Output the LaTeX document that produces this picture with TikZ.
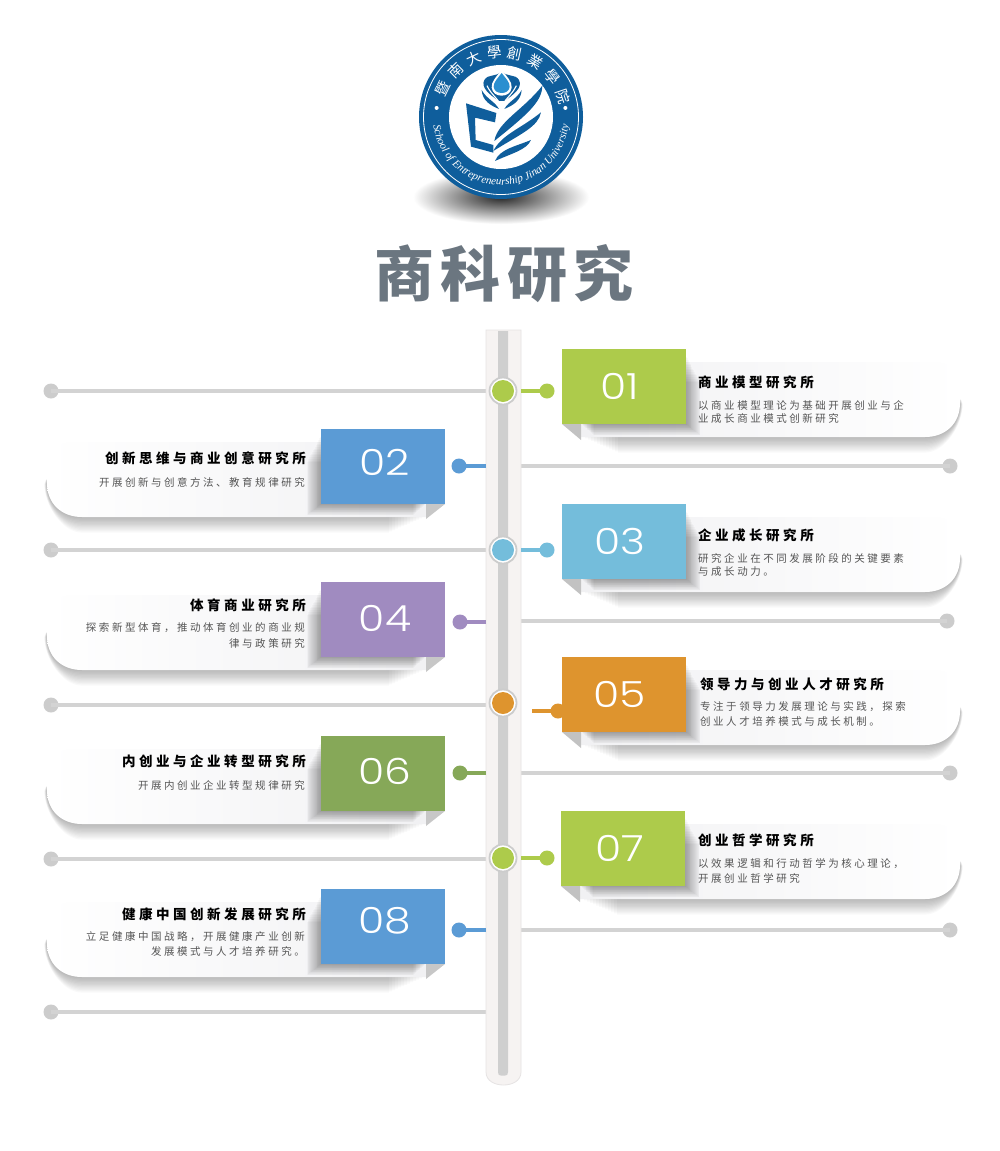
\documentclass[tikz,border=0pt]{standalone}
\usepackage{fontspec}
\usetikzlibrary{decorations.text}
\newfontfamily\ttlfont[LetterSpace=26]{Noto Sans CJK SC}
\newfontfamily\subfont[LetterSpace=24]{Noto Sans CJK SC}
\newfontfamily\bigfont[LetterSpace=11]{Noto Sans CJK SC Black}
\newfontfamily\logocjk{Noto Sans CJK SC}
\newfontfamily\numfont{Poppins Light}
\newfontfamily\logoen{Liberation Serif}
\newcommand{\fwc}{\char"FF0C\relax}
\definecolor{cgreen}{HTML}{ADCB4B}
\definecolor{cblue}{HTML}{5B9BD5}
\definecolor{csky}{HTML}{74BDDB}
\definecolor{cpurple}{HTML}{A08BC0}
\definecolor{corange}{HTML}{DE942E}
\definecolor{colive}{HTML}{86A858}
\definecolor{lgrey}{HTML}{D3D3D3}
\definecolor{dgrey}{HTML}{CCCCCC}
\definecolor{bandgrey}{HTML}{CFCFCF}
\definecolor{pipefill}{HTML}{F6F3F2}
\definecolor{pipeedge}{HTML}{E6E3E3}
\definecolor{cardgrey}{HTML}{F1F1F3}
\definecolor{logoblue}{HTML}{0F5E9C}
\definecolor{logodrop}{HTML}{2A8FD0}
\definecolor{ttlcol}{HTML}{6B7680}
\definecolor{subcol}{HTML}{555555}
\tikzset{
  numbox/.style={minimum width=124pt,minimum height=75pt,inner sep=0pt},
  numtxt/.style={inner sep=0pt,text=white,xscale=1.18,font=\numfont\fontsize{36}{36}\selectfont},
  ttl/.style={inner sep=0pt,text=black,font=\ttlfont\bfseries\fontsize{13.5}{13.5}\selectfont},
  subt/.style={inner sep=0pt,text=subcol,font=\subfont\fontsize{10.5}{10.5}\selectfont},
  endcap/.style={circle,fill=dgrey,minimum size=15pt,inner sep=0pt},
  gline/.style={draw=lgrey,line width=4pt},
  cdot/.style={circle,minimum size=15pt,inner sep=0pt},
  hubring/.style={circle,fill=white,draw=dgrey,line width=1.8pt,minimum size=27pt,inner sep=0pt},
  hubcore/.style={circle,minimum size=22pt,inner sep=0pt},
  anchorpt/.style={inner sep=0pt,minimum size=0pt}
}
% right hand card: box left, box top, colour, number, number centre x, y offset
\newcommand{\cardR}[6]{%
  \foreach \k in {1,...,12}{
    \fill[black,opacity=.024] (#1+20+3*\k,#2+45) -- (950,#2+45)
      .. controls (955,#2+45) and (960+.22*\k,#2+50) .. (960+.22*\k,#2+55)
      .. controls (960+.22*\k,#2+76) and (945,#2+88+1.3*\k) .. (925,#2+88+1.3*\k)
      -- (#1+20+3*\k,#2+88+1.3*\k) -- cycle;
  }
  \path[left color=cardgrey,right color=white] (#1+19,#2+13) -- (930,#2+13)
      .. controls (950,#2+13) and (960,#2+21) .. (960,#2+38)
      -- (960,#2+54) .. controls (960,#2+75) and (945,#2+88) .. (925,#2+88)
      -- (#1+19,#2+88) -- cycle;
  \foreach \k in {1,...,16}{
    \fill[black,opacity=.024] (#1+19+.8*\k,#2+6+1.7*\k) -- (#1+124+.9*\k,#2+6+1.7*\k) -- (#1+124+.9*\k,#2+75+.7*\k) -- (#1+19+.8*\k,#2+75+.7*\k) -- cycle;
  }
  \fill[black!24] (#1,#2+75) -- (#1+19,#2+75) -- (#1+19,#2+91) -- cycle;
  \node[numbox,fill=#3,anchor=north west] (box#4) at (#1,#2) {};
  \node[numtxt] (num#4) at (#5,#2+#6) {#4};
}
% left hand card
\newcommand{\cardL}[6]{%
  \foreach \k in {1,...,12}{
    \fill[black,opacity=.024] (#1+104-3*\k,#2+45) -- (57,#2+45)
      .. controls (52,#2+45) and (47-.22*\k,#2+50) .. (47-.22*\k,#2+55)
      .. controls (47-.22*\k,#2+76) and (62,#2+88+1.3*\k) .. (82,#2+88+1.3*\k)
      -- (#1+104-3*\k,#2+88+1.3*\k) -- cycle;
  }
  \path[right color=cardgrey,left color=white] (#1+105,#2+13) -- (77,#2+13)
      .. controls (57,#2+13) and (47,#2+21) .. (47,#2+38)
      -- (47,#2+54) .. controls (47,#2+75) and (62,#2+88) .. (82,#2+88)
      -- (#1+105,#2+88) -- cycle;
  \foreach \k in {1,...,16}{
    \fill[black,opacity=.024] (#1+105-.8*\k,#2+6+1.7*\k) -- (#1-.9*\k,#2+6+1.7*\k) -- (#1-.9*\k,#2+75+.7*\k) -- (#1+105-.8*\k,#2+75+.7*\k) -- cycle;
  }
  \fill[black!22] (#1+124,#2+75) -- (#1+105,#2+75) -- (#1+105,#2+90) -- cycle;
  \node[numbox,fill=#3,anchor=north west] (box#4) at (#1,#2) {};
  \node[numtxt] (num#4) at (#5,#2+#6) {#4};
}
\begin{document}
\begin{tikzpicture}[x=1pt,y=-1pt]
\useasboundingbox (0,0) rectangle (999,1151);
\fill[white] (0,0) rectangle (999,1151);

% ---------- logo ----------
\shade[inner color=black!85,outer color=white] (501,197) ellipse [x radius=88pt,y radius=27pt];
\begin{scope}[shift={(501,117)},y=1pt]
  \fill[logoblue] (0,0) circle (82pt);
  \draw[white,line width=.8pt] (0,0) circle (77.5pt);
  \fill[white] (0,0) circle (52pt);
  \foreach \a/\c [count=\i] in {154/暨,134.5/南,115/大,96/學,78/創,58/業,38/學,18.5/院}{
    \node[text=white,inner sep=0pt,rotate=\a-90,font=\logocjk\fontsize{14.5}{14.5}\selectfont] (lc\i) at (\a:65pt) {\c};
  }
  \node[circle,fill=white,minimum size=4pt,inner sep=0pt] (ldl) at (172:65pt) {};
  \node[circle,fill=white,minimum size=4pt,inner sep=0pt] (ldr) at (8:65pt) {};
  \path[postaction={decorate,decoration={text along path,text align=center,
     text={|\logoen\itshape\fontsize{11}{11}\selectfont\color{white}|School of Entrepreneurship Jinan University}}}]
     (188:68pt) arc [start angle=188,end angle=352,radius=68pt];
\end{scope}
\begin{scope}[shift={(455,65)},x=.3333pt,y=-.3333pt]
  \fill[logoblue] (140,18) .. controls (125,38) and (100,25) .. (88,45)
     .. controls (76,68) and (105,90) .. (132,108) -- (148,108)
     .. controls (175,90) and (204,68) .. (192,45)
     .. controls (180,25) and (155,38) .. (140,18) -- cycle;
  \fill[white] (140,14) .. controls (125,35) and (108,50) .. (110,68)
     .. controls (112,84) and (125,92) .. (140,92)
     .. controls (155,92) and (168,84) .. (170,68)
     .. controls (172,50) and (155,35) .. (140,14) -- cycle;
  \fill[logodrop] (140,24) .. controls (128,40) and (115,52) .. (116,66)
     .. controls (118,78) and (128,84) .. (140,84)
     .. controls (152,84) and (162,78) .. (164,66)
     .. controls (165,52) and (152,40) .. (140,24) -- cycle;
  \draw[white,line width=1.1pt] (96,62) .. controls (108,88) and (126,98) .. (136,118);
  \draw[white,line width=1.1pt] (184,62) .. controls (172,88) and (154,98) .. (144,118);
  \fill[logoblue] (80,75) .. controls (95,102) and (118,108) .. (132,132) .. controls (108,122) and (82,108) .. (80,75) -- cycle;
  \fill[logoblue] (200,75) .. controls (185,102) and (162,108) .. (148,132) .. controls (172,122) and (198,108) .. (200,75) -- cycle;
  \fill[logoblue] (33,115) -- (124,144) -- (120,172) -- (60,158) -- (62,225) -- (115,240) -- (115,263) -- (48,245) -- cycle;
  \fill[logoblue] (118,228) .. controls (128,170) and (205,135) .. (262,62) .. controls (262,110) and (215,150) .. (118,228) -- cycle;
  \fill[logoblue] (115,258) .. controls (140,208) and (200,190) .. (258,142) .. controls (250,185) and (200,205) .. (115,258) -- cycle;
  \fill[logoblue] (120,288) .. controls (135,252) and (180,245) .. (228,225) .. controls (215,255) and (170,265) .. (120,288) -- cycle;
\end{scope}

% ---------- title ----------
\node[inner sep=0pt,text=ttlcol,font=\bigfont\fontsize{60}{60}\selectfont] (title) at (504,274) {商科研究};

% ---------- cards ----------
\cardR{562}{349}{cgreen}{01}{620}{37}
\cardL{321}{429}{cblue}{02}{385}{33}
\cardR{562}{504}{csky}{03}{620}{37}
\cardL{321}{582}{cpurple}{04}{385}{36}
\cardR{562}{657}{corange}{05}{620}{37}
\cardL{321}{736}{colive}{06}{385}{35}
\cardR{561}{811}{cgreen}{07}{620}{37}
\cardL{321}{889}{cblue}{08}{385}{32}

% ---------- card texts ----------
\node[ttl,anchor=west] (t1) at (698,382) {商业模型研究所};
\node[subt,anchor=west] (s1a) at (698,405) {以商业模型理论为基础开展创业与企};
\node[subt,anchor=west] (s1b) at (698,419) {业成长商业模式创新研究};
\node[ttl,anchor=east] (t2) at (306,458) {创新思维与商业创意研究所};
\node[subt,anchor=east] (s2a) at (305,482) {开展创新与创意方法、教育规律研究};
\node[ttl,anchor=west] (t3) at (698,535) {企业成长研究所};
\node[subt,anchor=west] (s3a) at (698,558) {研究企业在不同发展阶段的关键要素};
\node[subt,anchor=west] (s3b) at (698,572) {与成长动力。};
\node[ttl,anchor=east] (t4) at (306,605) {体育商业研究所};
\node[subt,anchor=east] (s4a) at (305,628) {探索新型体育\fwc 推动体育创业的商业规};
\node[subt,anchor=east] (s4b) at (305,643) {律与政策研究};
\node[ttl,anchor=west] (t5) at (700,684) {领导力与创业人才研究所};
\node[subt,anchor=west] (s5a) at (700,707) {专注于领导力发展理论与实践\fwc 探索};
\node[subt,anchor=west] (s5b) at (700,721) {创业人才培养模式与成长机制。};
\node[ttl,anchor=east] (t6) at (306,761) {内创业与企业转型研究所};
\node[subt,anchor=east] (s6a) at (305,785) {开展内创业企业转型规律研究};
\node[ttl,anchor=west] (t7) at (698,840) {创业哲学研究所};
\node[subt,anchor=west] (s7a) at (698,864) {以效果逻辑和行动哲学为核心理论\fwc};
\node[subt,anchor=west] (s7b) at (698,878) {开展创业哲学研究};
\node[ttl,anchor=east] (t8) at (306,914) {健康中国创新发展研究所};
\node[subt,anchor=east] (s8a) at (305,937) {立足健康中国战略\fwc 开展健康产业创新};
\node[subt,anchor=east] (s8b) at (305,951) {发展模式与人才培养研究。};

% ---------- grey rungs ----------
\node[anchorpt] (lj1) at (488,391) {};
\node[anchorpt] (lj2) at (488,550) {};
\node[anchorpt] (lj3) at (488,705) {};
\node[anchorpt] (lj4) at (488,859) {};
\node[anchorpt] (lj5) at (488,1012) {};
\node[endcap] (le1) at (51,391) {};
\node[endcap] (le2) at (51,550) {};
\node[endcap] (le3) at (51,705) {};
\node[endcap] (le4) at (51,859) {};
\node[endcap] (le5) at (51,1012) {};
\foreach \i in {1,...,5} \draw[gline] (le\i.center) -- (lj\i.center);
\node[anchorpt] (rj1) at (519,466) {};
\node[anchorpt] (rj2) at (519,621) {};
\node[anchorpt] (rj3) at (519,773) {};
\node[anchorpt] (rj4) at (519,930) {};
\node[endcap] (re1) at (950,466) {};
\node[endcap] (re2) at (947,621) {};
\node[endcap] (re3) at (950,773) {};
\node[endcap] (re4) at (950,930) {};
\foreach \i in {1,...,4} \draw[gline] (rj\i.center) -- (re\i.center);

% ---------- pipe ----------
\draw[draw=pipeedge,fill=pipefill,line width=.8pt] (486,330) -- (521,330) -- (521,1072)
   .. controls (521,1081) and (512,1085) .. (503.5,1085)
   .. controls (495,1085) and (486,1081) .. (486,1072) -- cycle;
\fill[bandgrey] (498,331) -- (508,331) -- (508,1072) .. controls (508,1075) and (507,1075.5) .. (505,1075.5)
   -- (501,1075.5) .. controls (499,1075.5) and (498,1075) .. (498,1072) -- cycle;

% ---------- hubs and coloured connectors ----------
\foreach \n/\yy/\cc in {h1/391/cgreen,h2/550/csky,h3/703/corange,h4/858/cgreen}{
  \node[hubring] (\n) at (503,\yy) {};
  \node[hubcore,fill=\cc] (\n c) at (503,\yy) {};
}
\node[anchorpt] (c1s) at (521,391) {};
\node[cdot,fill=cgreen] (c1e) at (547,391) {};
\draw[cgreen,line width=3.2pt] (c1s.center) -- (c1e.center);
\node[anchorpt] (c3s) at (521,550) {};
\node[cdot,fill=csky] (c3e) at (547,550) {};
\draw[csky,line width=3.2pt] (c3s.center) -- (c3e.center);
\coordinate (c5s) at (532,711);
\node[cdot,fill=corange] (c5e) at (558,711) {};
\draw[corange,line width=3.2pt] (c5s) -- (c5e.center);
\node[anchorpt] (c7s) at (521,858) {};
\node[cdot,fill=cgreen] (c7e) at (547,858) {};
\draw[cgreen,line width=3.2pt] (c7s.center) -- (c7e.center);
\node[anchorpt] (c2s) at (486,466) {};
\node[cdot,fill=cblue] (c2e) at (459,466) {};
\draw[cblue,line width=3.2pt] (c2s.center) -- (c2e.center);
\node[anchorpt] (c4s) at (486,622) {};
\node[cdot,fill=cpurple] (c4e) at (460,622) {};
\draw[cpurple,line width=3.2pt] (c4s.center) -- (c4e.center);
\node[anchorpt] (c6s) at (486,773) {};
\node[cdot,fill=colive] (c6e) at (460,773) {};
\draw[colive,line width=3.2pt] (c6s.center) -- (c6e.center);
\node[anchorpt] (c8s) at (486,930) {};
\node[cdot,fill=cblue] (c8e) at (459,930) {};
\draw[cblue,line width=3.2pt] (c8s.center) -- (c8e.center);
\end{tikzpicture}
\end{document}
